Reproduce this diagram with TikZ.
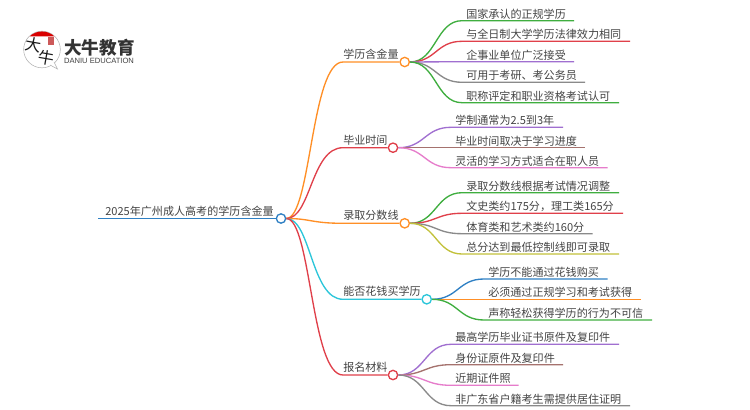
\documentclass[tikz,border=0pt]{standalone}
\usepackage{fontspec}
\setmainfont{Noto Sans CJK SC}
\newfontfamily\latinlogo{Liberation Sans}
\usetikzlibrary{calc}
\definecolor{cOrange}{HTML}{FF8F26}
\definecolor{cRed}{HTML}{E0404A}
\definecolor{cCyan}{HTML}{2CC6DA}
\definecolor{cBlue}{HTML}{2F80C4}
\definecolor{cGreen}{HTML}{3FAE3F}
\definecolor{cPurple}{HTML}{A06FD0}
\definecolor{cBrown}{HTML}{A5726E}
\definecolor{cPink}{HTML}{E67CCB}
\definecolor{cGrey}{HTML}{8A8A8A}
\definecolor{cOlive}{HTML}{C2C13A}
\definecolor{cText}{HTML}{444444}
\tikzset{
  x=0.75pt,y=-0.75pt,
  label text/.style={inner sep=0pt,anchor=base west,text=cText,font=\fontsize{8.3pt}{10pt}\selectfont},
  hub/.style={circle,draw=#1,fill=white,line width=1pt,minimum size=7pt,inner sep=0pt},
  wire/.style={draw=#1,line width=1pt},
}
% \leaf{parent}{name}{y}{text x}{end x}{colour}{text}
\newcommand\leaf[7]{%
  \node[label text] (#2) at (#4,#3-2.5) {#7};
  \coordinate (#2s) at (#4-4,#3);
  \coordinate (#2e) at (#5,#3);
  \coordinate (#2m) at ($(#1.east)!0.5!(#2s)$);
  \draw[wire=#6] (#1.east) .. controls (#2m |- #1.east) and (#2m |- #2s) .. (#2s) -- (#2e);
}
% \branch{name}{y}{circle x}{colour}{text}
\newcommand\branch[5]{%
  \node[label text] (#1t) at (343,#2-3.5) {#5};
  \node[hub=#4] (#1) at (#3,#2) {};
  \coordinate (#1s) at (343,#2);
  \draw[wire=#4] (root.east) .. controls (311,218.5) and (311,#2) .. (#1s) -- (#1.west);
}
\begin{document}
\begin{tikzpicture}
\useasboundingbox (0,0) rectangle (750,410);
\fill[white] (0,0) rectangle (750,410);
% logo
\node[circle,draw=black!30,line width=0.4pt,fill=white,minimum size=27.5pt,inner sep=0pt] (lg) at (42,49.5) {};
\draw[black!30,line width=0.4pt,fill=white] (50,65) -- (57.5,69) -- (54,62);
\fill[red!85!black] (29.5,36.5) arc[start angle=226,end angle=314,radius=18] -- cycle;
\fill[red!70!black,opacity=0.65] (48,37.5) rectangle (54,45);
\node[inner sep=0pt,font=\fontsize{12pt}{12pt}\selectfont,rotate=-10,text=black!90] (lgA) at (33,45) {大};
\node[inner sep=0pt,font=\fontsize{12pt}{12pt}\selectfont,rotate=-10,text=black!90] (lgB) at (46,58) {牛};
\node[inner sep=0pt,font=\fontsize{13.2pt}{14pt}\selectfont\bfseries,text=black!80] (lgT) at (99.5,48) {大牛教育};
\node[inner sep=0pt,font=\latinlogo\fontsize{5.7pt}{6pt}\selectfont,text=black!75] (lgE) at (99,60.5) {DANIU EDUCATION};
% root
\node[hub=cBlue] (root) at (281,218.5) {};
\coordinate (rootl) at (98,218.5);
\node[label text] (roottext) at (105,215.9) {2025年广州成人高考的学历含金量};
\draw[wire=cBlue,line width=1.2pt] (rootl) -- (root.west);
% branches
\branch{a}{62}{404.7}{cOrange}{学历含金量}
\branch{b}{147.7}{393}{cRed}{毕业时间}
\branch{c}{223.3}{404.7}{cOrange}{录取分数线}
\branch{d}{299.3}{426.7}{cCyan}{能否花钱买学历}
\branch{e}{375}{393}{cRed}{报名材料}
% leaves
\leaf{a}{a1}{20.7}{466}{574}{cGreen}{国家承认的正规学历}
\leaf{a}{a2}{41.3}{466}{630}{cRed}{与全日制大学学历法律效力相同}
\leaf{a}{a3}{61.7}{466}{574}{cPurple}{企事业单位广泛接受}
\leaf{a}{a4}{82.3}{466}{585}{cGrey}{可用于考研、考公务员}
\leaf{a}{a5}{102.7}{466}{619}{cGreen}{职称评定和职业资格考试认可}
\leaf{b}{b1}{127.3}{455}{563}{cPurple}{学制通常为2.5到3年}
\leaf{b}{b2}{147.7}{455}{585}{cBrown}{毕业时间取决于学习进度}
\leaf{b}{b3}{167.7}{455}{607.7}{cPink}{灵活的学习方式适合在职人员}
\leaf{c}{c1}{192.7}{466}{619}{cGreen}{录取分数线根据考试情况调整}
\leaf{c}{c2}{213.3}{466}{623}{cRed}{文史类约175分，理工类165分}
\leaf{c}{c3}{233.7}{466}{592.7}{cGrey}{体育类和艺术类约160分}
\leaf{c}{c4}{254}{466}{619}{cOlive}{总分达到最低控制线即可录取}
\leaf{d}{d1}{279}{488}{607.7}{cBlue}{学历不能通过花钱购买}
\leaf{d}{d2}{299.3}{488}{641}{cOrange}{必须通过正规学习和考试获得}
\leaf{d}{d3}{320}{488}{652}{cGreen}{声称轻松获得学历的行为不可信}
\leaf{e}{e1}{344.3}{455}{619}{cPurple}{最高学历毕业证书原件及复印件}
\leaf{e}{e2}{364.7}{455}{563}{cBrown}{身份证原件及复印件}
\leaf{e}{e3}{385.3}{455}{518.7}{cPink}{近期证件照}
\leaf{e}{e4}{405.7}{455}{630}{cGrey}{非广东省户籍考生需提供居住证明}
\end{tikzpicture}
\end{document}
